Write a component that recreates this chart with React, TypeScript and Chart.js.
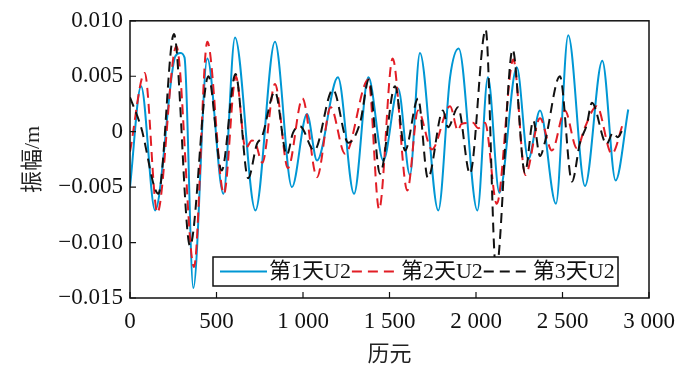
import React, { useEffect, useRef } from 'react';
import { Chart, registerables } from 'chart.js';

Chart.register(...registerables);

// ---- data ----
const seriesNames = ['第1天U2', '第2天U2', '第3天U2'];

const day1Epochs = [0, 64, 145, 262, 290, 315, 366, 447, 540, 607, 725, 838, 936, 1023, 1081, 1202, 1295, 1378, 1464, 1550, 1618, 1676, 1782, 1850, 1900, 2008, 2069, 2135, 2236, 2302, 2370, 2462, 2533, 2630, 2730, 2807, 2880];
const day1Values = [-0.005, 0.0041, -0.0071, 0.0068, 0.0071, 0.0067, -0.0141, 0.0066, -0.0056, 0.0085, -0.0071, 0.0081, -0.005, 0.0016, -0.0026, 0.0049, -0.0056, 0.0049, -0.0026, 0.0039, -0.0039, 0.0071, -0.0071, 0.0049, 0.0075, -0.0071, 0.0049, -0.0055, 0.0058, -0.0025, 0.0019, -0.0065, 0.0087, -0.0049, 0.0064, -0.0044, 0.002];

const day2Epochs = [0, 85, 158, 268, 370, 447, 543, 612, 668, 705, 725, 765, 838, 913, 997, 1081, 1160, 1243, 1378, 1440, 1518, 1603, 1665, 1745, 1850, 1896, 1915, 1983, 2012, 2052, 2120, 2216, 2285, 2370, 2439, 2514, 2583, 2630, 2698, 2785, 2851];
const day2Values = [-0.0018, 0.0053, -0.0073, 0.0077, -0.0122, 0.0081, -0.0056, 0.005, -0.0015, -0.0008, -0.001, -0.0028, 0.0043, -0.0033, 0.003, -0.0041, 0.0022, -0.002, 0.0047, -0.007, 0.0066, -0.0053, 0.0019, -0.0016, 0.0023, 0.0001, 0.0007, 0.0008, 0.0003, 0.0008, -0.0065, 0.0065, -0.0039, 0.0012, -0.0017, 0.0019, -0.0015, 0.0004, 0.0023, -0.002, 0.0008];

const day3Epochs = [0, 64, 164, 254, 347, 453, 530, 610, 683, 734, 762, 838, 907, 942, 982, 1065, 1173, 1262, 1330, 1381, 1445, 1532, 1590, 1665, 1722, 1809, 1838, 1896, 1965, 2056, 2116, 2212, 2283, 2331, 2370, 2399, 2485, 2555, 2601, 2640, 2670, 2755, 2792, 2820, 2850];
const day3Values = [0.0031, 0.0004, -0.0056, 0.0088, -0.0103, 0.005, -0.0035, 0.0052, -0.0042, -0.0011, -0.0005, 0.0036, -0.0021, -0.0001, 0.0005, -0.0017, 0.0038, -0.001, 0.0008, 0.0047, -0.0038, 0.0041, -0.0017, 0.003, -0.0042, 0.0019, 0.0004, 0.0022, -0.0038, 0.0092, -0.0125, 0.0074, -0.0037, 0.001, -0.0022, -0.0009, 0.005, -0.0045, -0.001, 0.0006, 0.0026, -0.0011, -0.0001, -0.0005, 0.0003];

const xTickValues = [0, 500, 1000, 1500, 2000, 2500, 3000];
const xTickLabels = ['0', '500', '1 000', '1 500', '2 000', '2 500', '3 000'];
const yTickValues = [0.01, 0.005, 0, -0.005, -0.01, -0.015];
const yTickLabels = ['0.010', '0.005', '0', '−0.005', '−0.010', '−0.015'];

const xTitle = '历元';
const yTitle = '振幅/m';

const colors = ['rgb(0,151,212)', 'rgb(226,29,37)', 'rgb(17,17,17)'];
const dashes: number[][] = [[], [10, 6], [10, 6]];

const FONT = "'Liberation Serif', 'Times New Roman', 'Noto Sans CJK SC', serif";

const framePlugin = {
  id: 'frame',
  afterDatasetsDraw(chart: any) {
    const { ctx, chartArea: ca, scales } = chart;
    ctx.save();
    ctx.strokeStyle = '#111';
    ctx.lineWidth = 1.5;
    ctx.strokeRect(ca.left, ca.top, ca.right - ca.left, ca.bottom - ca.top);
    ctx.lineWidth = 1.2;
    ctx.beginPath();
    xTickValues.forEach((v) => {
      const px = scales.x.getPixelForValue(v);
      ctx.moveTo(px, ca.bottom);
      ctx.lineTo(px, ca.bottom - 6);
    });
    yTickValues.forEach((v) => {
      const py = scales.y.getPixelForValue(v);
      ctx.moveTo(ca.left, py);
      ctx.lineTo(ca.left + 6, py);
    });
    ctx.stroke();

    // legend inside the plot
    const boxL = ca.left + 83;
    const boxT = ca.bottom - 41;
    const boxW = 405;
    const boxH = 29;
    ctx.fillStyle = '#fff';
    ctx.fillRect(boxL, boxT, boxW, boxH);
    ctx.strokeStyle = '#111';
    ctx.lineWidth = 1.5;
    ctx.strokeRect(boxL, boxT, boxW, boxH);
    ctx.font = `22px ${FONT}`;
    ctx.textBaseline = 'middle';
    ctx.textAlign = 'left';
    let x = boxL + 7;
    const cy = boxT + boxH / 2;
    seriesNames.forEach((name, i) => {
      ctx.strokeStyle = colors[i];
      ctx.lineWidth = 2;
      ctx.setLineDash(dashes[i]);
      ctx.beginPath();
      ctx.moveTo(x, cy);
      ctx.lineTo(x + 47, cy);
      ctx.stroke();
      ctx.setLineDash([]);
      x += 49;
      ctx.fillStyle = '#111';
      ctx.fillText(name, x, cy + 1);
      x += ctx.measureText(name).width + 1;
    });
    ctx.restore();
  },
};

export default function App() {
  const ref = useRef<HTMLCanvasElement | null>(null);
  useEffect(() => {
    if (!ref.current) return;
    const mk = (ex: number[], vs: number[]) => ex.map((x, i) => ({ x, y: vs[i] }));
    const all = [mk(day1Epochs, day1Values), mk(day2Epochs, day2Values), mk(day3Epochs, day3Values)];
    const chart = new Chart(ref.current, {
      type: 'line',
      data: {
        datasets: all.map((d, i) => ({
          label: seriesNames[i],
          data: d,
          borderColor: colors[i],
          borderWidth: 2,
          borderDash: dashes[i],
          pointRadius: 0,
          fill: false,
          cubicInterpolationMode: 'monotone' as const,
          order: 3 - i,
        })),
      },
      options: {
        animation: false,
        responsive: true,
        maintainAspectRatio: false,
        layout: { padding: { left: 0, top: 20, right: 51, bottom: 0 } },
        plugins: { legend: { display: false }, tooltip: { enabled: false } },
        scales: {
          x: {
            type: 'linear',
            min: 0,
            max: 3000,
            grid: { display: false, drawTicks: false },
            border: { display: false },
            afterBuildTicks: (s: any) => { s.ticks = xTickValues.map((v) => ({ value: v })); },
            afterFit: (s: any) => { s.height = 78; },
            ticks: {
              padding: 10,
              color: '#111',
              font: { family: FONT, size: 23 },
              maxRotation: 0,
              autoSkip: false,
              callback: (v: any) => { const k = xTickValues.indexOf(Number(v)); return k >= 0 ? xTickLabels[k] : ''; },
            },
            title: { display: true, text: xTitle, color: '#222', font: { family: FONT, size: 22 }, padding: { top: 0, bottom: 8 } },
          },
          y: {
            type: 'linear',
            min: -0.015,
            max: 0.01,
            grid: { display: false, drawTicks: false },
            border: { display: false },
            afterBuildTicks: (s: any) => { s.ticks = yTickValues.map((v) => ({ value: v })); },
            afterFit: (s: any) => { s.width = 130; },
            ticks: {
              padding: 7,
              color: '#111',
              font: { family: FONT, size: 23 },
              autoSkip: false,
              callback: (v: any) => { const k = yTickValues.findIndex((t) => Math.abs(t - Number(v)) < 1e-9); return k >= 0 ? yTickLabels[k] : ''; },
            },
            title: { display: true, text: yTitle, color: '#222', font: { family: FONT, size: 22 }, padding: { top: 20, bottom: 0 } },
          },
        },
      },
      plugins: [framePlugin],
    });
    return () => chart.destroy();
  }, []);
  return (
    <div style={{ position: 'absolute', left: 0, top: 0, width: 700, height: 376, background: '#fff' }}>
      <canvas ref={ref} />
    </div>
  );
}
